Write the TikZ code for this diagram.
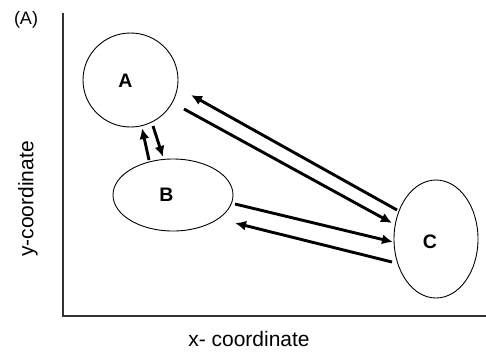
\documentclass[tikz,border=0pt]{standalone}
\usepackage{fontspec}
\setmainfont{Liberation Sans}
\usetikzlibrary{arrows.meta,calc,shapes.geometric}
\begin{document}
\begin{tikzpicture}[x=1pt,y=-1pt,
  blob/.style={draw,ellipse,line width=0.9pt,inner sep=0pt},
  lbl/.style={font=\fontsize{19.5}{22}\selectfont\bfseries},
  arr/.style={line width=2.9pt,-{Latex[length=11pt,width=10pt]}},
  axis/.style={line width=1.2pt,draw=black!80},
  axlbl/.style={font=\fontsize{21}{24}\selectfont}]
\useasboundingbox (0,0) rectangle (486,354);
\coordinate (top) at (63,13);
\coordinate (orig) at (63,316);
\coordinate (right) at (486,316);
\draw[axis] (top) -- (orig) -- (right);
\node[blob,minimum width=95pt,minimum height=94pt] (A) at (130.5,80) {};
\node[blob,minimum width=120pt,minimum height=72pt] (B) at (173,195) {};
\node[blob,minimum width=84pt,minimum height=118pt] (C) at (436,239) {};
\node[lbl] (la) at ($(A)+(-5,1)$) {A};
\node[lbl] (lb) at ($(B)+(-6.5,0)$) {B};
\node[lbl] (lc) at ($(C)+(-6,3)$) {C};
\node[font=\fontsize{18}{20}\selectfont] (tag) at (26,20) {(A)};
\node[axlbl] (xl) at (249,339) {x- coordinate};
\node[axlbl,rotate=90] (yl) at (28,199) {y-coordinate};
% A <-> B
\draw[arr] ($(B)+(-24,-35)$) -- ($(A)+(11.5,48)$);
\draw[arr] ($(A)+(22.5,46)$) -- ($(B)+(-10,-38)$);
% A <-> C
\draw[arr] ($(C)+(-39,-29)$) -- ($(A)+(60.5,15)$);
\draw[arr] ($(A)+(53.5,29)$) -- ($(C)+(-44,-16)$);
% B <-> C
\draw[arr] ($(B)+(62,9)$) -- ($(C)+(-43,3)$);
\draw[arr] ($(C)+(-44,23)$) -- ($(B)+(62,28)$);
\end{tikzpicture}
\end{document}
